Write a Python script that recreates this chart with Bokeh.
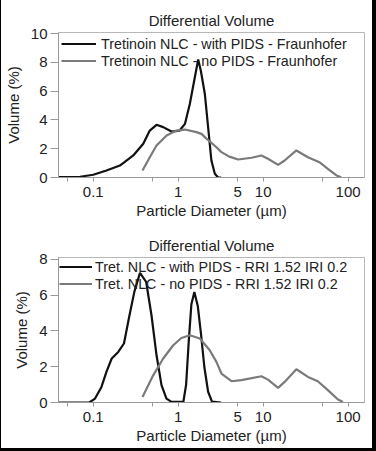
from bokeh.plotting import figure
from bokeh.layouts import column
from bokeh.models import FixedTicker, Legend, LegendItem, Range1d, Title
from bokeh.embed import file_html
from bokeh.resources import INLINE

# ---------------- data ----------------
title_text = "Differential Volume"
x_label = "Particle Diameter (µm)"
y_label = "Volume (%)"
x_ticks = [0.05, 0.1, 0.5, 1, 5, 10, 50, 100]
x_tick_labels = {0.05: "", 0.1: "0.1", 0.5: "", 1: "1", 5: "5", 10: "10", 50: "", 100: "100"}

top_labels = ["Tretinoin NLC - with PIDS - Fraunhofer", "Tretinoin NLC - no PIDS - Fraunhofer"]
top_with_d = [0.039, 0.07, 0.1, 0.143, 0.206, 0.296, 0.388, 0.463, 0.556, 0.666, 0.834, 1.04, 1.2, 1.37,
              1.57, 1.72, 1.85, 2.06, 2.25, 2.46, 2.7, 2.95, 3.2]
top_with_v = [0.02, 0.05, 0.19, 0.49, 0.83, 1.53, 2.34, 3.26, 3.66, 3.5, 3.19, 3.26, 3.72, 5.1,
              6.96, 8.2, 7.4, 5.8, 3.5, 1.18, 0.26, 0.0, 0.0]
top_no_d = [0.38, 0.463, 0.556, 0.73, 0.955, 1.2, 1.64, 1.88, 2.15, 2.46, 2.82, 3.23, 4.0, 5.08, 7.3,
            9.54, 11.4, 15, 17.9, 24.6, 33.7, 46, 57.8, 73, 83]
top_no_v = [0.49, 1.41, 2.22, 2.92, 3.26, 3.33, 3.15, 3.03, 2.7, 2.4, 2.1, 1.76, 1.45, 1.25, 1.37,
            1.53, 1.3, 0.88, 1.18, 1.88, 1.41, 1.06, 0.6, 0.14, 0.02]

bot_labels = ["Tret. NLC - with PIDS - RRI 1.52 IRI 0.2", "Tret. NLC - no PIDS - RRI 1.52 IRI 0.2"]
bot_with_d = [0.039, 0.09, 0.105, 0.125, 0.143, 0.165, 0.197, 0.23, 0.265, 0.305, 0.355, 0.42, 0.485,
              0.556, 0.636, 0.728, 0.834, 1.15, 1.24, 1.33, 1.43, 1.55, 1.7, 1.85, 2.03, 2.25, 2.5, 3.2]
bot_with_v = [0.0, 0.0, 0.22, 0.87, 1.71, 2.46, 2.83, 3.3, 4.8, 6.2, 7.25, 6.74, 4.88,
              2.64, 0.97, 0.22, 0.03, 0.03, 1.0, 3.4, 5.5, 6.18, 5.4, 3.9, 2.0, 0.6, 0.05, 0.0]
bot_no_d = [0.38, 0.508, 0.666, 0.874, 1.09, 1.37, 1.8, 2.35, 2.82, 3.23, 4.24, 5.55, 9.54, 11.4, 15,
            17.9, 24.6, 33.7, 44, 57.8, 76, 87]
bot_no_v = [0.31, 1.52, 2.46, 3.2, 3.61, 3.76, 3.58, 2.92, 2.27, 1.62, 1.19, 1.25, 1.47, 1.28, 0.82,
            1.15, 1.86, 1.43, 1.19, 0.69, 0.17, 0.03]

FONT = "Liberation Sans"
TXT = "#222222"
BLACK = "#111111"
GREY = "#7a7a7a"


def make_plot(height, ymax, yticks, bt, bb, with_d, with_v, no_d, no_v, labels,
              leg_margin, glyph_w, standoff):
    p = figure(width=371, height=height, x_axis_type="log",
               x_range=Range1d(0.039, 156), y_range=Range1d(0, ymax),
               output_backend="svg", toolbar_location=None,
               min_border_left=56, min_border_right=8, min_border_top=bt, min_border_bottom=bb)
    p.title = Title(text=title_text, align="center", text_font=FONT, text_font_size="15px",
                    text_font_style="normal", text_color=TXT, offset=0, standoff=7)
    p.grid.visible = False
    p.outline_line_color = "#b8b8b8"
    p.outline_line_width = 1
    p.background_fill_color = "white"
    p.border_fill_color = "white"

    xa = p.xaxis[0]
    xa.ticker = FixedTicker(ticks=x_ticks, minor_ticks=[])
    xa.major_label_overrides = x_tick_labels
    xa.axis_label = x_label
    ya = p.yaxis[0]
    ya.ticker = FixedTicker(ticks=yticks, minor_ticks=[])
    ya.axis_label = y_label
    for ax in (xa, ya):
        ax.axis_line_color = "#999999"
        ax.major_tick_line_color = "#999999"
        ax.major_tick_in = 0
        ax.minor_tick_line_color = None
        ax.major_label_text_font = FONT
        ax.major_label_text_font_size = "15px"
        ax.major_label_text_color = TXT
        ax.axis_label_text_font = FONT
        ax.axis_label_text_font_size = "15px"
        ax.axis_label_text_font_style = "normal"
        ax.axis_label_text_color = TXT
    xa.major_tick_out = 4
    xa.major_label_standoff = 5
    xa.axis_label_standoff = 2
    ya.major_tick_out = 8
    ya.major_label_standoff = 3
    ya.axis_label_standoff = 6

    r1 = p.line(with_d, with_v, line_color=BLACK, line_width=2.2)
    r2 = p.line(no_d, no_v, line_color=GREY, line_width=2.2)

    leg = Legend(items=[LegendItem(label=labels[0], renderers=[r1]),
                        LegendItem(label=labels[1], renderers=[r2])],
                 location="top_left", margin=leg_margin, padding=0, spacing=0,
                 glyph_width=glyph_w, glyph_height=17, label_height=17,
                 label_standoff=standoff,
                 label_text_font=FONT, label_text_font_size="14.3px", label_text_color=TXT,
                 background_fill_alpha=0, border_line_alpha=0)
    p.add_layout(leg)
    return p


p1 = make_plot(225, 10.07, [0, 2, 4, 6, 8, 10], 32, 48,
               top_with_d, top_with_v, top_no_d, top_no_v, top_labels, 3, 35, 5)
p2 = make_plot(223, 8.11, [0, 2, 4, 6, 8], 32, 46,
               bot_with_d, bot_with_v, bot_no_d, bot_no_v, bot_labels, 1, 33, 3)

layout = column(p1, p2, spacing=0,
                styles={"border-left": "1px solid #000", "border-right": "4px solid #000",
                        "border-bottom": "3px solid #000"})
open("out.html", "w").write(file_html(layout, INLINE))
